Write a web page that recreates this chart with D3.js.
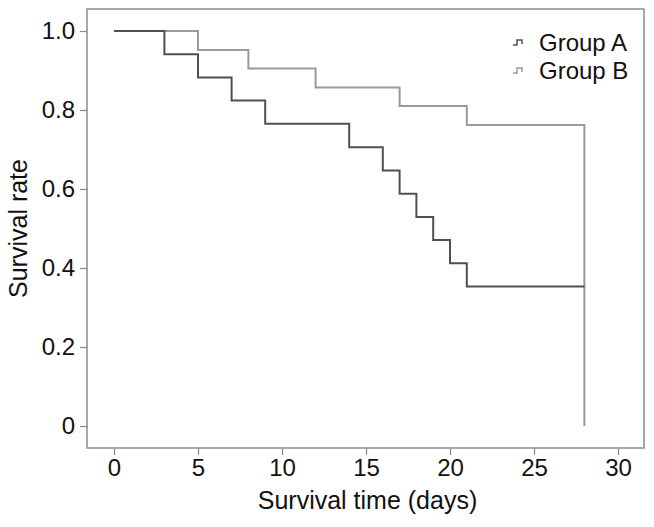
<!DOCTYPE html>
<html><head><meta charset="utf-8">
<script src="https://cdn.jsdelivr.net/npm/d3@7"></script>
<style>body{margin:0;background:#fff}svg{display:block}text{font-family:Arial,"Liberation Sans",sans-serif;fill:#111}</style>
</head><body><svg id="c" width="654" height="527"></svg>
<script>
// Data (Kaplan-Meier step points: time, survival)
const groupNames = ["Group A", "Group B"];
const groupA_time = [0, 3, 5, 7, 9, 14, 16, 17, 18, 19, 20, 21, 28];
const groupA_surv = [1.0, 0.941, 0.882, 0.824, 0.765, 0.706, 0.647, 0.588, 0.529, 0.471, 0.412, 0.353, 0.353];
const groupB_time = [0, 5, 8, 12, 17, 21, 28];
const groupB_surv = [1.0, 0.952, 0.905, 0.857, 0.810, 0.762, 0.0];
const xTicks = [0, 5, 10, 15, 20, 25, 30];
const yTicks = [0, 0.2, 0.4, 0.6, 0.8, 1.0];
const yTickLabels = ["0", "0.2", "0.4", "0.6", "0.8", "1.0"];
const colors = ["#505050", "#9a9a9a"];

const svg = d3.select("#c");
const L = 87, R = 644, T = 9, B = 448;
const x = d3.scaleLinear().domain([0, 30]).range([114, 618]);
const y = d3.scaleLinear().domain([0, 1]).range([426, 31]);

// frame
svg.append("rect").attr("x", L).attr("y", T).attr("width", R - L).attr("height", B - T)
  .attr("fill", "none").attr("stroke", "#8c8c8c").attr("stroke-width", 1.5);

// axes
const xAxis = svg.append("g").attr("transform", `translate(0,${B})`)
  .call(d3.axisBottom(x).tickValues(xTicks).tickSize(7).tickSizeOuter(0).tickPadding(4));
xAxis.select(".domain").remove();
xAxis.selectAll("line").attr("stroke", "#8c8c8c").attr("stroke-width", 1.3);
xAxis.selectAll("text").attr("font-size", 24).attr("fill", "#111").style("font-family", "Arial, 'Liberation Sans', sans-serif");

const yAxis = svg.append("g").attr("transform", `translate(${L},0)`)
  .call(d3.axisLeft(y).tickValues(yTicks).tickFormat((d, i) => yTickLabels[i]).tickSize(7).tickSizeOuter(0).tickPadding(5));
yAxis.select(".domain").remove();
yAxis.selectAll("line").attr("stroke", "#8c8c8c").attr("stroke-width", 1.3);
yAxis.selectAll("text").attr("font-size", 24).attr("fill", "#111").style("font-family", "Arial, 'Liberation Sans', sans-serif");

// axis titles
svg.append("text").attr("x", (L + R) / 2 + 2).attr("y", 509).attr("text-anchor", "middle")
  .attr("font-size", 25).text("Survival time (days)");
svg.append("text").attr("transform", `translate(27,${(y(0) + y(1)) / 2}) rotate(-90)`)
  .attr("text-anchor", "middle").attr("font-size", 25).text("Survival rate");

// curves
const line = d3.line().x(d => x(d[0])).y(d => y(d[1])).curve(d3.curveStepAfter);
const series = [
  d3.zip(groupA_time, groupA_surv),
  d3.zip(groupB_time, groupB_surv)
];
// Group B drawn first so A lies on top
[1, 0].forEach(i => {
  svg.append("path").datum(series[i]).attr("d", line)
    .attr("fill", "none").attr("stroke", colors[i]).attr("stroke-width", 2);
});

// legend
const lg = svg.append("g");
groupNames.forEach((n, i) => {
  const cy = 43 + i * 28;
  lg.append("path").attr("d", `M513,${cy + 2} h4 v-5 h5 v4`)
    .attr("fill", "none").attr("stroke", colors[i]).attr("stroke-width", 1.5);
  lg.append("text").attr("x", 539).attr("y", cy + 8).attr("font-size", 24).text(n);
});
</script></body></html>
